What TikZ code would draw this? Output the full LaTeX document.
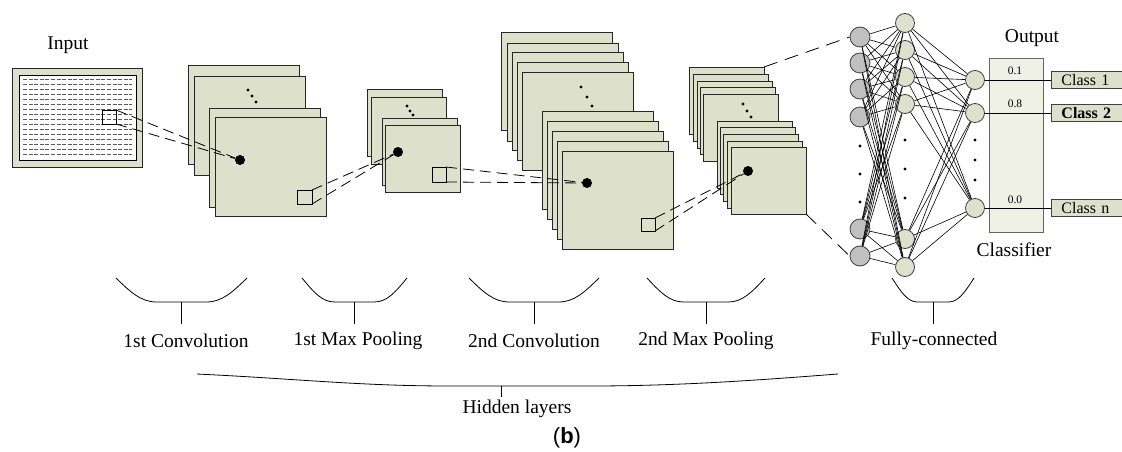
\documentclass[tikz,border=0pt]{standalone}
\usepackage{fontspec}
\setmainfont{Liberation Serif}
\newfontfamily\labsans{Liberation Sans}
\definecolor{mapfill}{RGB}{221,224,203}
\definecolor{neugray}{RGB}{192,192,192}
\definecolor{neugreen}{RGB}{222,226,205}
\definecolor{clsfill}{RGB}{239,241,230}
\tikzset{
  fmap/.style={draw=black!85, fill=mapfill, line width=0.9pt, anchor=north west, inner sep=0pt, outer sep=0pt},
  patch/.style={draw=black, line width=0.9pt, inner sep=0pt, anchor=north west, outer sep=0pt},
  bigdot/.style={circle, fill=black, inner sep=0pt, minimum size=10pt},
  smalldot/.style={circle, fill=black, inner sep=0pt, minimum size=3.2pt},
  rf/.style={dash pattern=on 11pt off 6pt, line width=0.8pt},
  longdash/.style={dash pattern=on 14pt off 8pt, line width=0.8pt},
  nin/.style={circle, draw=black!75, fill=neugray, minimum size=20pt, inner sep=0pt, line width=0.8pt},
  nhid/.style={circle, draw=black!75, fill=neugreen, minimum size=19pt, inner sep=0pt, line width=0.8pt},
  wire/.style={line width=0.6pt},
  lab/.style={font=\fontsize{19.5}{22}\selectfont, inner sep=0pt},
  vallab/.style={font=\fontsize{11.5}{13}\selectfont, inner sep=0pt},
  clsbox/.style={draw=black!75, fill=mapfill, line width=0.9pt, minimum height=17pt, text width=55pt, inner xsep=10pt, inner ysep=0pt, align=left, font=\fontsize{16}{18}\selectfont, anchor=west},
  gridrow/.style={dash pattern=on 4pt off 1.6pt, line width=0.7pt, black!65},
  bucket/.style={line width=0.8pt},
}
\newcommand\bucketshape[2]{%
  \pgfmathsetmacro\bkw{(#2-#1)/2}%
  \pgfmathsetmacro\bkc{(#1+#2)/2}%
  \draw[bucket] (#1,278) .. controls ({#1+0.22*\bkw},292) and ({#1+0.38*\bkw},302) .. ({#1+0.62*\bkw},302)
     -- ({#2-0.62*\bkw},302) .. controls ({#2-0.38*\bkw},302) and ({#2-0.22*\bkw},292) .. (#2,278);
  \draw[bucket] (\bkc,302) -- (\bkc,324);}
\begin{document}
\begin{tikzpicture}[x=1pt, y=-1pt]
\useasboundingbox (0,0) rectangle (1122,452);

% ---------------- Input ----------------
\node[lab] (inlab) at (68,45) {Input};
\node[fmap, minimum width=130pt, minimum height=99pt] (inframe) at (12,68) {};
\node[draw=black, fill=white, line width=0.9pt, anchor=north west, inner sep=0pt, minimum width=117pt, minimum height=85pt] (ingrid) at (19,75) {};
\foreach \k in {0,...,15} \draw[gridrow] (23,{79+5*\k}) -- (132,{79+5*\k});
\node[patch, minimum width=14pt, minimum height=14pt] (pin) at (102,110) {};

% ---------------- 1st convolution ----------------
\foreach \x/\y [count=\i] in {188/65,194/76,209/108,215/117}
  \node[fmap, minimum width=111pt, minimum height=99pt] (cva\i) at (\x,\y) {};
\foreach \x/\y [count=\i] in {248/90,252/96,256/102} \node[smalldot] (cvadot\i) at (\x,\y) {};
\node[bigdot] (da) at (240,160) {};
\node[patch, minimum width=15pt, minimum height=14pt] (pa) at (297,190) {};

% ---------------- 1st max pooling ----------------
\foreach \x/\y [count=\i] in {367/89,371/97,382/118,385/125}
  \node[fmap, minimum width=75pt, minimum height=67pt] (pla\i) at (\x,\y) {};
\foreach \x/\y [count=\i] in {407/106,410/111,413/115} \node[smalldot] (pladot\i) at (\x,\y) {};
\node[bigdot] (db) at (398,152) {};
\node[patch, minimum width=14pt, minimum height=15pt] (pb) at (432,167) {};

% ---------------- 2nd convolution ----------------
\foreach \x/\y [count=\i] in {501/32,507/43,512/52,517/62,522/72}
  \node[fmap, minimum width=111pt, minimum height=98pt] (cvb\i) at (\x,\y) {};
\foreach \x/\y [count=\i] in {581/87,587/97,592/106} \node[smalldot] (cvbdot\i) at (\x,\y) {};
\foreach \x/\y [count=\i] in {542/111,547/121,552/131,557/141,562/151}
  \node[fmap, minimum width=111pt, minimum height=98pt] (cvc\i) at (\x,\y) {};
\node[bigdot] (dc) at (587,183) {};
\node[patch, minimum width=14pt, minimum height=13pt] (pc) at (641,218) {};

% ---------------- 2nd max pooling ----------------
\foreach \x/\y [count=\i] in {689/67,693/74,697/81,700/87,703/94}
  \node[fmap, minimum width=75pt, minimum height=67pt] (plb\i) at (\x,\y) {};
\foreach \x/\y [count=\i] in {743/104,747/111,751/117} \node[smalldot] (plbdot\i) at (\x,\y) {};
\foreach \x/\y [count=\i] in {717/121,720/127,723/134,727/141,731/147}
  \node[fmap, minimum width=75pt, minimum height=67pt] (plc\i) at (\x,\y) {};
\node[bigdot] (dd) at (748,171) {};

% ---------------- receptive field connectors ----------------
\draw[rf] (pin.north east) -- (da);
\draw[rf] (pin.south east) -- (da);
\draw[rf] (pa.north east) -- (db);
\draw[rf] (pa.south east) -- (db);
\draw[rf] (pb.north east) -- (dc);
\draw[rf] (pb.south east) -- (dc);
\draw[rf] (pc.north east) -- (dd);
\draw[rf] (pc.south east) -- (dd);

% ---------------- fully connected ----------------
\foreach \n/\y in {1/37,2/63,3/89,4/117,5/229,6/256} \node[nin] (g\n) at (860,\y) {};
\foreach \n/\y in {1/23,2/50,3/77,4/104,5/239,6/267} \node[nhid] (h\n) at (905,\y) {};
\foreach \n/\y in {1/80,2/113,3/208} \node[nhid] (o\n) at (975,\y) {};
\foreach \y [count=\i] in {146,174,202} \node[smalldot] (gdot\i) at (860,\y) {};
\foreach \y [count=\i] in {140,169,198} \node[smalldot] (hdot\i) at (905,\y) {};
\foreach \y [count=\i] in {140,160,180} \node[smalldot] (odot\i) at (975,\y) {};
\foreach \a in {1,...,6} \foreach \b in {1,...,6} \draw[wire] (g\a) -- (h\b);
\foreach \a in {1,...,6} \foreach \b in {1,2,3} \draw[wire] (h\a) -- (o\b);

\draw[longdash] (plb1.north east) -- (g1.west);
\draw[longdash] (plc5.south east) -- (g6.west);

% ---------------- classifier ----------------
\node[lab] (outlab) at (1032,38) {Output};
\node[draw=black!60, fill=clsfill, line width=0.8pt, minimum width=54pt, minimum height=174pt, anchor=north west, inner sep=0pt] (clf) at (989,58) {};
\node[vallab] (v1) at (1015,71) {0.1};
\node[vallab] (v2) at (1015,104) {0.8};
\node[vallab] (v3) at (1015,200) {0.0};
\begin{scope}
\clip (0,0) rectangle (1122,452);
\node[clsbox] (cl1) at (1051,80) {Class 1};
\node[clsbox] (cl2) at (1051,113) {\textbf{Class 2}};
\node[clsbox] (cl3) at (1051,208) {Class n};
\end{scope}
\draw[wire] (o1) -- (cl1.west);
\draw[wire] (o2) -- (cl2.west);
\draw[wire] (o3) -- (cl3.west);
\node[lab] (clflab) at (1014,250) {Classifier};

% ---------------- braces and labels ----------------
\bucketshape{116}{247}
\bucketshape{302}{407}
\bucketshape{469}{599}
\bucketshape{647}{765}
\bucketshape{892}{974}
\node[lab] (l1) at (186,341) {1st Convolution};
\node[lab] (l2) at (358,341) {1st Max Pooling};
\node[lab] (l3) at (534,341) {2nd Convolution};
\node[lab] (l4) at (706,341) {2nd Max Pooling};
\node[lab] (l5) at (934,341) {Fully-connected};

\draw[bucket] (197,374) .. controls (300,379) and (360,386) .. (450,386) -- (590,386) .. controls (680,386) and (760,380) .. (838,374);
\draw[bucket] (501,386) -- (501,397);
\node[lab] (l6) at (517,409) {Hidden layers};
\node[font=\labsans\fontsize{22}{24}\selectfont, inner sep=0pt] (cap) at (567,438) {(\textbf{b})};
\end{tikzpicture}
\end{document}
